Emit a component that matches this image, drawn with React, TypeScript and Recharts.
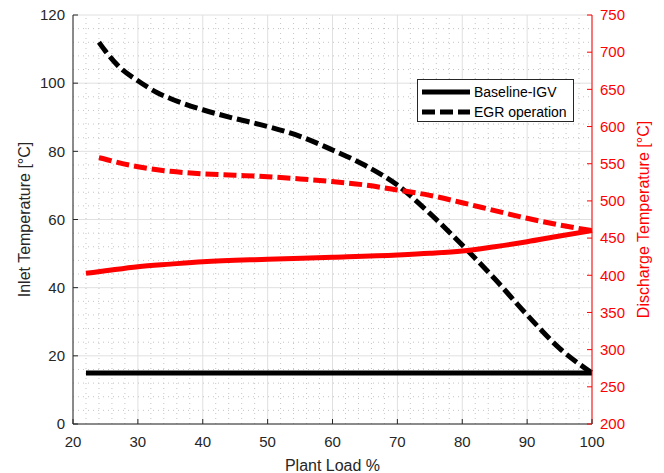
import { LineChart, Line, XAxis, YAxis, CartesianGrid, ReferenceLine } from "recharts";

const xTicks = [20, 30, 40, 50, 60, 70, 80, 90, 100];
const inletTicks = [0, 20, 40, 60, 80, 100, 120];
const dischargeTicks = [200, 250, 300, 350, 400, 450, 500, 550, 600, 650, 700, 750];

// EGR operation
const egrLoad = [24, 25, 27, 30, 33, 35, 40, 45, 50, 55, 60, 65, 70, 75, 80, 85, 90, 95, 100];
const egrInlet = [112, 109.4, 105, 100.7, 97.2, 95.5, 92.2, 89.6, 87.3, 84.4, 80.4, 75.9, 70.1, 61.8, 52.5, 42.6, 32, 22.2, 15];
const egrDischarge = [558, 556, 551.4, 546, 541.8, 539.8, 536.4, 534.5, 532.6, 529.6, 526, 521.4, 514.7, 507.5, 497.5, 487, 476.6, 467.6, 460];

// Baseline-IGV
const baseLoad = [22, 25, 30, 35, 40, 50, 60, 70, 75, 80, 85, 90, 95, 100];
const baseInlet = [15, 15, 15, 15, 15, 15, 15, 15, 15, 15, 15, 15, 15, 15];
const baseDischarge = [402.6, 406, 411.5, 415, 418.2, 421.5, 424.2, 427.3, 429.5, 432.6, 438.4, 445.1, 452.8, 460];

const egrInletData = egrLoad.map((x, i) => ({ x, y: egrInlet[i] }));
const egrDischargeData = egrLoad.map((x, i) => ({ x, y: egrDischarge[i] }));
const baseInletData = baseLoad.map((x, i) => ({ x, y: baseInlet[i] }));
const baseDischargeData = baseLoad.map((x, i) => ({ x, y: baseDischarge[i] }));

const minorX: number[] = [];
for (let v = 22; v < 100; v += 2) if (v % 10 !== 0) minorX.push(v);
const minorY: number[] = [];
for (let v = 4; v < 120; v += 4) if (v % 20 !== 0) minorY.push(v);

const FONT = "Liberation Sans, Arial, Helvetica, sans-serif";
const AXIS = "#262626";
const RED = "#ff0000";

const BottomTick = (p: any) => (
  <g>
    <line x1={p.x} x2={p.x} y1={p.y} y2={p.y - 5} stroke={AXIS} />
    <text x={p.x} y={p.y + 23} textAnchor="middle" fontSize={15} fill={AXIS} fontFamily={FONT}>
      {p.payload.value}
    </text>
  </g>
);

const TopTick = (p: any) => (
  <line x1={p.x} x2={p.x} y1={p.y} y2={p.y + 5} stroke={AXIS} />
);

const LeftTick = (p: any) => (
  <g>
    <line x1={p.x} x2={p.x + 5} y1={p.y} y2={p.y} stroke={AXIS} />
    <text x={p.x - 8} y={p.y} dy="0.35em" textAnchor="end" fontSize={15} fill={AXIS} fontFamily={FONT}>
      {p.payload.value}
    </text>
  </g>
);

const RightTick = (p: any) => (
  <g>
    <line x1={p.x} x2={p.x - 5} y1={p.y} y2={p.y} stroke={RED} />
    <text x={p.x + 8} y={p.y} dy="0.35em" textAnchor="start" fontSize={15} fill={RED} fontFamily={FONT}>
      {p.payload.value}
    </text>
  </g>
);

function Legend() {
  return (
    <div
      style={{
        position: "absolute",
        left: 417,
        top: 79,
        width: 155,
        height: 41,
        background: "#fff",
        border: `1px solid ${AXIS}`,
      }}
    >
      <svg width={155} height={41} style={{ display: "block" }}>
        <line x1={4} x2={52} y1={12} y2={12} stroke="#000" strokeWidth={5} />
        <text x={56} y={12} dy="0.35em" fontSize={14} fontFamily={FONT} fill="#000">Baseline-IGV</text>
        <line x1={4} x2={52} y1={32} y2={32} stroke="#000" strokeWidth={5} strokeDasharray="13 5" />
        <text x={56} y={32} dy="0.35em" fontSize={14} fontFamily={FONT} fill="#000">EGR operation</text>
      </svg>
    </div>
  );
}

export default function App() {
  return (
    <div style={{ position: "absolute", left: 0, top: 0, width: 664, height: 473, background: "#fff" }}>
      <LineChart width={664} height={473} margin={{ top: 15, right: 0, bottom: 0, left: 0 }}>
        <XAxis
          dataKey="x"
          type="number"
          domain={[20, 100]}
          ticks={xTicks}
          interval={0}
          height={49}
          tickSize={0}
          tickMargin={0}
          tick={BottomTick}
          axisLine={{ stroke: AXIS }}
          label={{
            content: (props: any) => {
              const vb = props.viewBox;
              return (
                <text x={vb.x + vb.width / 2} y={vb.y + 41} dy="0.35em" textAnchor="middle" fontSize={16} fill={AXIS} fontFamily={FONT}>
                  Plant Load %
                </text>
              );
            },
          }}
        />
        <XAxis
          xAxisId="top"
          dataKey="x"
          type="number"
          orientation="top"
          domain={[20, 100]}
          ticks={xTicks}
          interval={0}
          height={0}
          tickSize={0}
          tickMargin={0}
          tick={TopTick}
          axisLine={{ stroke: AXIS }}
        />
        <YAxis
          yAxisId="left"
          type="number"
          domain={[0, 120]}
          ticks={inletTicks}
          interval={0}
          width={73}
          tickSize={0}
          tickMargin={0}
          tick={LeftTick}
          axisLine={{ stroke: AXIS }}
          label={{
            content: (props: any) => {
              const vb = props.viewBox;
              const cx = vb.x + 24;
              const cy = vb.y + vb.height / 2;
              return (
                <text x={cx} y={cy} transform={`rotate(-90 ${cx} ${cy})`} textAnchor="middle" dominantBaseline="central" fontSize={16} fill={AXIS} fontFamily={FONT}>
                  Inlet Temperature [°C]
                </text>
              );
            },
          }}
        />
        <YAxis
          yAxisId="right"
          orientation="right"
          type="number"
          domain={[200, 750]}
          ticks={dischargeTicks}
          interval={0}
          width={72}
          tickSize={0}
          tickMargin={0}
          tick={RightTick}
          axisLine={{ stroke: RED }}
          label={{
            content: (props: any) => {
              const vb = props.viewBox;
              const cx = vb.x + 51;
              const cy = vb.y + vb.height / 2;
              return (
                <text x={cx} y={cy} transform={`rotate(-90 ${cx} ${cy})`} textAnchor="middle" dominantBaseline="central" fontSize={16} fill={RED} fontFamily={FONT}>
                  Discharge Temperature [°C]
                </text>
              );
            },
          }}
        />
        {minorX.map((v) => (
          <ReferenceLine key={`mx${v}`} x={v} yAxisId="left" stroke="#c4c4c4" strokeDasharray="1 4" />
        ))}
        {minorY.map((v) => (
          <ReferenceLine key={`my${v}`} y={v} yAxisId="left" stroke="#c4c4c4" strokeDasharray="1 4" />
        ))}
        <CartesianGrid yAxisId="left" stroke="#e0e0e0" />
        <Line
          yAxisId="left"
          data={baseInletData}
          dataKey="y"
          type="monotone"
          stroke="#000"
          strokeWidth={5}
          dot={false}
          isAnimationActive={false}
        />
        <Line
          yAxisId="left"
          data={egrInletData}
          dataKey="y"
          type="monotone"
          stroke="#000"
          strokeWidth={5}
          strokeDasharray="13 5"
          dot={false}
          isAnimationActive={false}
        />
        <Line
          yAxisId="right"
          data={baseDischargeData}
          dataKey="y"
          type="monotone"
          stroke={RED}
          strokeWidth={5}
          dot={false}
          isAnimationActive={false}
        />
        <Line
          yAxisId="right"
          data={egrDischargeData}
          dataKey="y"
          type="monotone"
          stroke={RED}
          strokeWidth={5}
          strokeDasharray="13 5"
          dot={false}
          isAnimationActive={false}
        />
      </LineChart>
      <Legend />
    </div>
  );
}
